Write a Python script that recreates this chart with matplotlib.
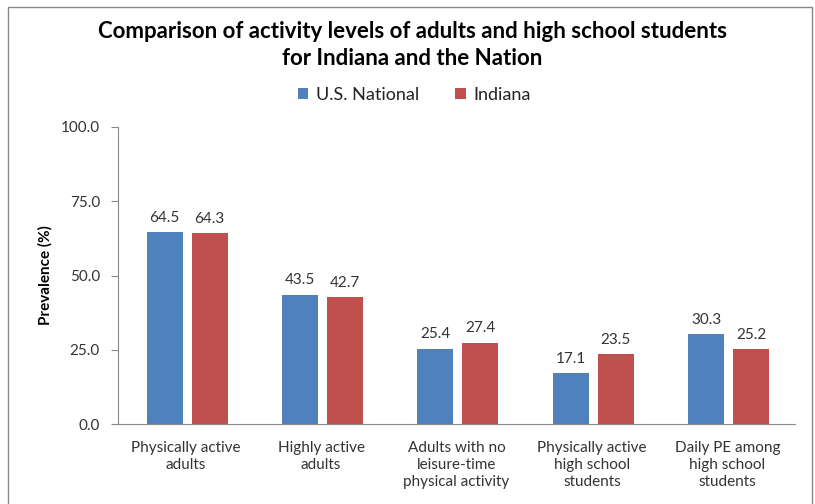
import matplotlib
matplotlib.use("Agg")
import matplotlib.pyplot as plt
from matplotlib.patches import Rectangle
import numpy as np

categories = ["Physically active\nadults", "Highly active\nadults",
              "Adults with no\nleisure-time\nphysical activity",
              "Physically active\nhigh school\nstudents",
              "Daily PE among\nhigh school\nstudents"]
us_national = [64.5, 43.5, 25.4, 17.1, 30.3]
indiana = [64.3, 42.7, 27.4, 23.5, 25.2]
series_names = ["U.S. National", "Indiana"]
yticks = [0, 25, 50, 75, 100]

plt.rcParams['font.family'] = ['Lato', 'DejaVu Sans']

W, H = 815, 504
fig = plt.figure(figsize=(W/100, H/100), dpi=100)
fig.patch.set_facecolor("white")

ax = fig.add_axes([118/W, 1-424/H, (795-118)/W, (424-127)/H])

x = np.arange(len(categories))
bw = 0.266
gap = 0.066
blue = "#4F81BD"
red = "#C0504D"
b1 = ax.bar(x - (bw+gap)/2 + 0.01, us_national, bw, color=blue, label=series_names[0])
b2 = ax.bar(x + (bw+gap)/2 + 0.01, indiana, bw, color=red, label=series_names[1])

for bars, vals in ((b1, us_national), (b2, indiana)):
    for rect, v in zip(bars, vals):
        ax.text(rect.get_x()+rect.get_width()/2, v+2.5, f"{v:.1f}",
                ha="center", va="bottom", fontsize=11, color="#333333")

ax.set_xlim(-0.5, len(categories)-0.5)
ax.set_ylim(0, 100)
ax.set_yticks(yticks)
ax.set_yticklabels([f"{t:.1f}" for t in yticks])
ax.set_xticks(x)
ax.set_xticklabels(categories, fontsize=11, color="#333333", linespacing=1.3)
ax.tick_params(axis="x", length=0, pad=12)
ax.tick_params(axis="y", length=5, width=0.8, color="#888888", labelsize=11,
               labelcolor="#333333", pad=8)
for s in ("top", "right"):
    ax.spines[s].set_visible(False)
for s in ("left", "bottom"):
    ax.spines[s].set_color("#888888")
    ax.spines[s].set_linewidth(0.8)

ax.set_ylabel("Prevalence (%)", fontsize=11, fontweight="bold", labelpad=6)

fig.text(412/W, 1-45/H, "Comparison of activity levels of adults and high school students\nfor Indiana and the Nation",
         ha="center", va="center", fontsize=16, fontweight="bold", linespacing=1.4)

leg = fig.legend(handles=[b1, b2], labels=series_names, loc="center",
                 bbox_to_anchor=(414/W, 1-95/H), ncol=2, frameon=False,
                 fontsize=13, handlelength=0.6, handleheight=0.6,
                 handletextpad=0.4, columnspacing=2.0)
for t in leg.get_texts():
    t.set_color("#222222")

border = Rectangle((8/W, -0.05), (812-8)/W, 1-7/H+0.05, transform=fig.transFigure,
                   fill=False, edgecolor="#888888", linewidth=1.0)
fig.patches.append(border)

fig.savefig("out.png", dpi=100)
